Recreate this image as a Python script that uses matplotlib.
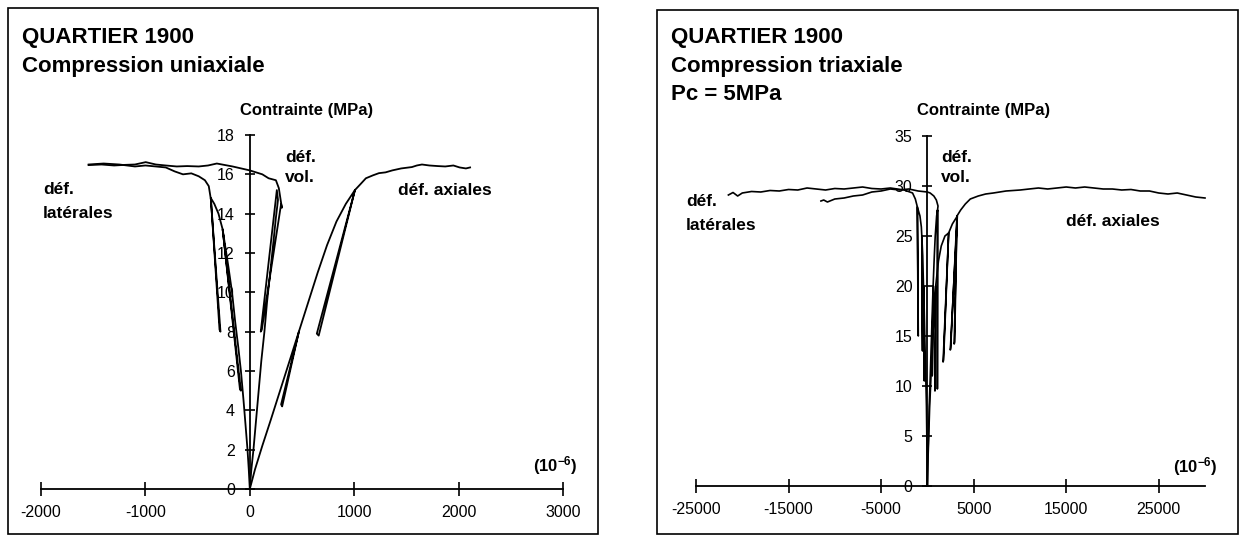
import matplotlib
matplotlib.use('Agg')
import matplotlib.pyplot as plt
from matplotlib.patches import Rectangle

plt.rcParams['font.family'] = ['Liberation Sans', 'DejaVu Sans']
plt.rcParams['axes.unicode_minus'] = False
plt.rcParams['mathtext.fontset'] = 'custom'
plt.rcParams['mathtext.rm'] = 'Liberation Sans'
plt.rcParams['mathtext.bf'] = 'Liberation Sans:bold'

# ---- left panel data : compression uniaxiale (strain 1e-6, stress MPa)
uni_axial_x = [0, 50, 120, 200, 290, 380, 470, 300, 310, 470, 560, 650, 740, 830, 920, 1007,
               642, 660, 1007, 1060, 1112, 1180, 1237, 1300, 1365, 1450, 1553, 1600,
               1649, 1720, 1800, 1872, 1950, 2010, 2070, 2110]
uni_axial_y = [0, 1, 2.2, 3.5, 5, 6.5, 8, 4.3, 4.2, 8, 9.5, 11, 12.4, 13.6, 14.5, 15.2,
               7.9, 7.8, 15.2, 15.5, 15.8, 15.95, 16.06, 16.1, 16.2, 16.3, 16.37, 16.45,
               16.5, 16.45, 16.42, 16.4, 16.45, 16.35, 16.3, 16.35]

uni_lat_x = [0, -10, -22, -40, -60, -85, -110, -140, -170, -205, -240, -260, -86, -95, -260,
             -300, -340, -374, -281, -290, -372, -393, -430, -489, -560, -640, -720, -805,
             -900, -1000, -1100, -1250, -1400, -1544]
uni_lat_y = [0, 1, 2, 3.2, 4.5, 6, 7.2, 8.5, 10, 11.3, 12.5, 13.2, 5.0, 5.1, 13.2,
             14.0, 14.5, 14.8, 8.0, 8.1, 14.7, 15.4, 15.7, 15.9, 16.05, 16.0, 16.15, 16.35,
             16.4, 16.45, 16.4, 16.5, 16.55, 16.5]

uni_vol_x = [0, 15, 35, 60, 85, 110, 140, 165, 195, 225, 250, 270, 259, 105, 115, 300, 307,
             278, 250, 180, 120, 0, -165, -316, -400, -489, -600, -700, -805, -900, -997,
             -1100, -1200, -1300, -1420, -1544]
uni_vol_y = [0, 1, 2, 3.5, 5, 6.5, 8, 9.5, 11, 12.5, 13.8, 14.7, 15.2, 8.0, 8.1, 14.5, 14.3,
             15.3, 15.7, 15.8, 16.0, 16.2, 16.4, 16.55, 16.45, 16.4, 16.42, 16.4, 16.45, 16.5,
             16.62, 16.5, 16.48, 16.45, 16.5, 16.47]

# ---- right panel data : compression triaxiale Pc = 5 MPa
tri_axial_x = [0, 80, 150, 250, 350, 480, 600, 750, 900, 820, 840, 900, 1080, 1200, 1500, 1900,
               2300, 1700, 1750, 2300, 2700, 3240, 2480, 2520, 3200, 2900, 2950, 3200, 3600,
               4100, 4640, 5500, 6300, 7130, 8500, 10040, 11000, 12000, 13000, 14000, 15000,
               16000, 17000, 18000, 19000, 20000, 21000, 22000, 23000, 24000, 25000, 26000,
               27000, 28000, 29000, 30000]
tri_axial_y = [0, 3, 5, 8, 10, 13, 15, 18, 20, 9.5, 9.6, 20, 21.5, 22.5, 24, 25,
               25.3, 12.4, 12.6, 25.3, 26.2, 27.0, 13.6, 13.8, 27.0, 14.2, 14.4, 27.0, 27.6,
               28.2, 28.7, 29.0, 29.2, 29.3, 29.5, 29.6, 29.7, 29.8, 29.7, 29.8, 29.9,
               29.8, 29.9, 29.8, 29.7, 29.7, 29.6, 29.65, 29.5, 29.5, 29.3, 29.2,
               29.3, 29.1, 28.9, 28.8]

tri_lat_x = [0, -30, -60, -100, -150, -200, -280, -350, -420, -330, -340, -420, -500, -600,
             -520, -540, -600, -650, -800, -1080, -980, -1000, -1080, -1300, -1600, -2500,
             -4000, -5000, -6000, -7000, -8000, -9000, -10000, -11000, -12000, -13000, -14000,
             -15000, -16000, -17000, -18000, -19000, -20000, -20500, -21000, -21500]
tri_lat_y = [0, 3, 5, 8, 10, 12, 15, 18, 20, 10.5, 10.6, 20, 23, 25,
             13.5, 13.6, 25, 25.9, 27, 27.9, 15.0, 15.2, 27.9, 28.7, 29.3, 29.6,
             29.8, 29.7, 29.75, 29.9, 29.8, 29.7, 29.75, 29.6, 29.7, 29.8, 29.6,
             29.65, 29.5, 29.55, 29.4, 29.45, 29.3, 29.0, 29.35, 29.1]

tri_vol_x = [0, 60, 120, 200, 280, 380, 450, 550, 620, 520, 540, 620, 750, 850, 1000, 1100,
             1080, 1090, 1100, 1150, 970, 700, 300, 0, -1000, -2000, -3000, -4000, -5000,
             -6000, -7000, -8000, -9000, -10000, -10800, -11200, -11500]
tri_vol_y = [0, 3, 5, 8, 10, 13, 15, 18, 20, 11.0, 11.1, 20, 23, 25, 27, 27.6,
             9.7, 9.8, 27.6, 28.0, 28.6, 29.0, 29.3, 29.4, 29.5, 29.7, 29.6, 29.7, 29.5,
             29.4, 29.1, 29.0, 28.8, 28.7, 28.4, 28.6, 28.5]

W, H = 1244, 536
fig = plt.figure(figsize=(W / 100, H / 100), dpi=100)


def fx(px):
    return px / W


def fy(py):
    return 1 - py / H


def panel(x0, x1, y0, y1, xlim, ylim, xticks, yticks):
    # x0/x1: pixels of xlim ends, y0/y1: pixels of ylim bottom/top
    ax = fig.add_axes([fx(x0), fy(y0), (x1 - x0) / W, (y0 - y1) / H])
    ax.set_xlim(xlim)
    ax.set_ylim(ylim)
    ax.patch.set_visible(False)
    for s in ['top', 'right']:
        ax.spines[s].set_visible(False)
    ax.spines['left'].set_position(('data', 0))
    ax.spines['bottom'].set_position(('data', 0))
    ax.spines['left'].set_linewidth(1.3)
    ax.spines['bottom'].set_linewidth(1.3)
    ax.set_xticks(xticks)
    ax.set_yticks(yticks)
    ax.tick_params(axis='x', direction='inout', length=9.5, width=1.2, labelsize=11.5, pad=7)
    ax.tick_params(axis='y', direction='inout', length=7.5, width=1.2, labelsize=11.5, pad=7)
    return ax


axl = panel(41, 563, 489, 135, (-2000, 3000), (0, 18),
            [-2000, -1000, 0, 1000, 2000, 3000], list(range(0, 19, 2)))
for xs, ys in [(uni_axial_x, uni_axial_y), (uni_lat_x, uni_lat_y), (uni_vol_x, uni_vol_y)]:
    axl.plot(xs, ys, color='black', lw=1.3, clip_on=False)

axr = panel(696, 1205, 486, 136, (-25000, 30000), (0, 35),
            [-25000, -15000, -5000, 5000, 15000, 25000], list(range(0, 36, 5)))
for xs, ys in [(tri_axial_x, tri_axial_y), (tri_lat_x, tri_lat_y), (tri_vol_x, tri_vol_y)]:
    axr.plot(xs, ys, color='black', lw=1.2, clip_on=False)

# frames around each panel
fig.add_artist(Rectangle((fx(8), fy(534)), (598 - 8) / W, (534 - 8) / H,
                         transform=fig.transFigure, fill=False, lw=1.2, color='black'))
fig.add_artist(Rectangle((fx(657), fy(534)), (1238 - 657) / W, (534 - 10) / H,
                         transform=fig.transFigure, fill=False, lw=1.2, color='black'))

bold = dict(fontweight='bold', color='black')

# left panel texts
fig.text(fx(22), fy(43), 'QUARTIER 1900', fontsize=16, va='baseline', **bold)
fig.text(fx(22), fy(72), 'Compression uniaxiale', fontsize=16, va='baseline', **bold)
fig.text(fx(307), fy(111), 'Contrainte (MPa)', fontsize=12, ha='center', va='center', **bold)
fig.text(fx(285), fy(158), 'déf.', fontsize=12.5, va='center', **bold)
fig.text(fx(285), fy(177), 'vol.', fontsize=12.5, va='center', **bold)
fig.text(fx(43), fy(189), 'déf.', fontsize=12.5, va='center', **bold)
fig.text(fx(43), fy(213), 'latérales', fontsize=12.5, va='center', **bold)
fig.text(fx(398), fy(190), 'déf. axiales', fontsize=12.5, va='center', **bold)
fig.text(fx(578), fy(466), r'$\mathbf{(10^{-6})}$', fontsize=12, ha='right', va='center')

# right panel texts
fig.text(fx(671), fy(43), 'QUARTIER 1900', fontsize=16, va='baseline', **bold)
fig.text(fx(671), fy(72), 'Compression triaxiale', fontsize=16, va='baseline', **bold)
fig.text(fx(671), fy(100), 'Pc = 5MPa', fontsize=16, va='baseline', **bold)
fig.text(fx(984), fy(111), 'Contrainte (MPa)', fontsize=12, ha='center', va='center', **bold)
fig.text(fx(941), fy(157), 'déf.', fontsize=12.5, va='center', **bold)
fig.text(fx(941), fy(178), 'vol.', fontsize=12.5, va='center', **bold)
fig.text(fx(686), fy(202), 'déf.', fontsize=12.5, va='center', **bold)
fig.text(fx(686), fy(225), 'latérales', fontsize=12.5, va='center', **bold)
fig.text(fx(1066), fy(222), 'déf. axiales', fontsize=12.5, va='center', **bold)
fig.text(fx(1218), fy(467), r'$\mathbf{(10^{-6})}$', fontsize=12, ha='right', va='center')

fig.savefig('out.png', dpi=100)
